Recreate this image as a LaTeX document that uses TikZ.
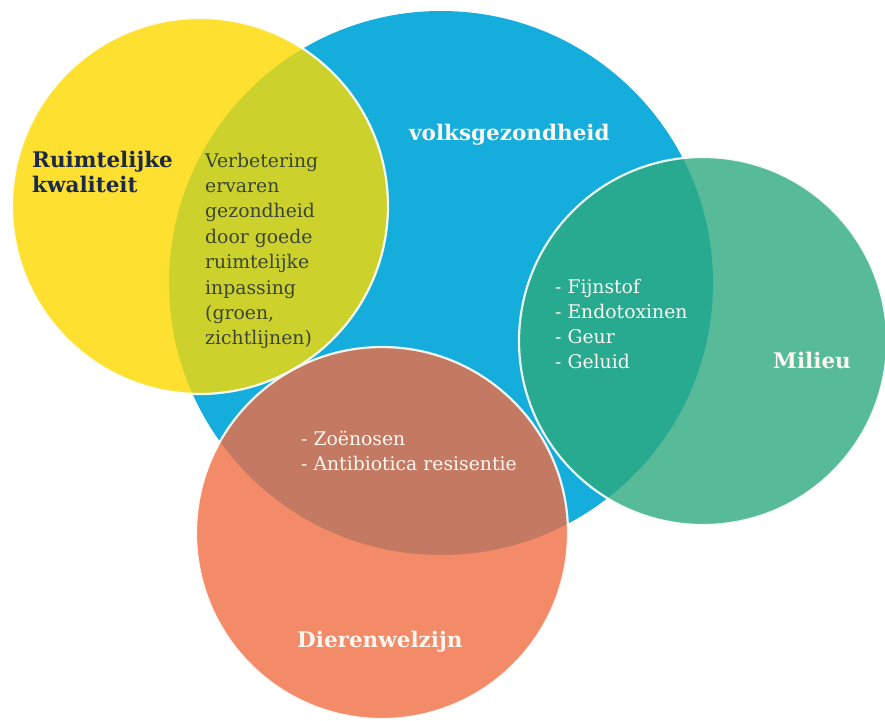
\documentclass[tikz,border=0pt]{standalone}
\usepackage{fontspec}
\setmainfont{DejaVu Serif}
\definecolor{cblue}{HTML}{15ADDC}
\definecolor{cyellow}{HTML}{FDE030}
\definecolor{colive}{HTML}{CCD22B}
\definecolor{cgreen}{HTML}{57BA98}
\definecolor{cteal}{HTML}{27AA90}
\definecolor{corange}{HTML}{F38A68}
\definecolor{cbrown}{HTML}{C47A62}
\definecolor{tnavy}{HTML}{1C2A48}
\definecolor{tolive}{HTML}{3B4636}
\definecolor{twhite}{HTML}{FBF7F0}
\begin{document}
\begin{tikzpicture}[x=1pt,y=-1pt,
  outl/.style={draw=white,line width=2.2pt,draw opacity=0.9},
  title/.style={font=\fontsize{21.5}{25}\selectfont\bfseries,inner sep=0pt,anchor=base west},
  body/.style={font=\fontsize{18.8}{25}\selectfont,inner sep=0pt,anchor=base west}]
\useasboundingbox (0,0) rectangle (885,720);
\coordinate (B) at (441,283);
\coordinate (Y) at (200,206);
\coordinate (G) at (703,341);
\coordinate (O) at (382,533);
% base discs
\fill[cblue] (B) circle (272pt);
\fill[cyellow] (Y) circle (188pt);
\fill[cgreen] (G) circle (184pt);
\fill[corange] (O) circle (186pt);
% overlaps with the blue disc
\begin{scope}
  \clip (B) circle (272pt);
  \fill[colive] (Y) circle (188pt);
  \fill[cteal] (G) circle (184pt);
  \fill[cbrown] (O) circle (186pt);
\end{scope}
% white rims
\draw[outl] (Y) circle (188pt);
\draw[outl] (G) circle (184pt);
\draw[outl] (O) circle (186pt);
% labels
\node[title,text=twhite] (volk) at (409,140) {volksgezondheid};
\node[title,text=tnavy] (ruim1) at (32,167) {Ruimtelijke};
\node[title,text=tnavy] (ruim2) at (32,192) {kwaliteit};
\node[title,text=twhite] (mil) at (773,368) {Milieu};
\node[title,text=twhite] (dier) at (297,647) {Dierenwelzijn};
\foreach \t [count=\i from 0] in {Verbetering,ervaren,gezondheid,door goede,ruimtelijke,inpassing,{(groen,},zichtlijnen)}
  \node[body,text=tolive] (verb\i) at (205,167+25.4*\i) {\t};
\foreach \t [count=\i from 0] in {- Fijnstof,- Endotoxinen,- Geur,- Geluid}
  \node[body,text=twhite] (mil\i) at (555,293+25*\i) {\t};
\foreach \t [count=\i from 0] in {- Zoënosen,- Antibiotica resisentie}
  \node[body,text=twhite] (dz\i) at (301,445+25*\i) {\t};
\end{tikzpicture}
\end{document}
